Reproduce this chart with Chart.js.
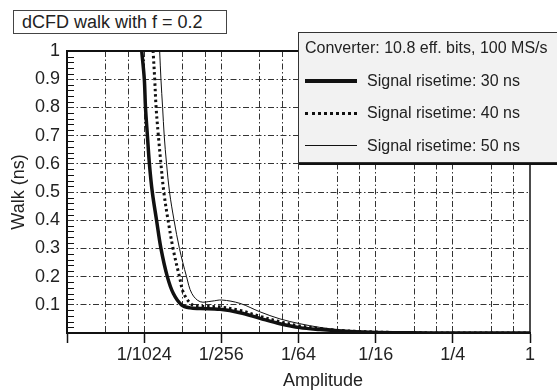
<!DOCTYPE html>
<html>
<head>
<meta charset="utf-8">
<script src="https://cdn.jsdelivr.net/npm/chart.js@4/dist/chart.umd.min.js"></script>
<style>
html,body{margin:0;padding:0;background:#fff;overflow:hidden;}
#wrap{position:relative;width:557px;height:391px;overflow:hidden;font-family:"Liberation Sans",Arial,Helvetica,sans-serif;color:#222;}
#c{position:absolute;left:0;top:0;}
#title{position:absolute;left:13px;top:10px;width:214px;height:24px;box-sizing:border-box;border:1px solid #444;background:#fff;font-size:18px;line-height:22px;padding-left:8px;white-space:nowrap;}
#legend{position:absolute;left:298px;top:32px;width:280px;height:131px;box-sizing:border-box;border:1px solid #333;background:#f2f2f2;box-shadow:1px 2px 0 #111;}
#legend .t{position:absolute;font-size:16px;line-height:20px;white-space:nowrap;}
#legend .s{position:absolute;left:6px;width:52px;}
#xtitle{position:absolute;left:283px;top:369px;font-size:18px;line-height:22px;white-space:nowrap;}
</style>
</head>
<body>
<div id="wrap">
<canvas id="c" width="557" height="391"></canvas>
<div id="title">dCFD walk with f = 0.2</div>
<div id="legend">
  <div class="t" style="left:6px;top:5px;">Converter: 10.8 eff. bits, 100 MS/s</div>
  <div class="s" style="top:46px;height:4px;background:#111;"></div>
  <div class="t" style="left:68px;top:38px;">Signal risetime: 30 ns</div>
  <div class="s" style="top:79px;height:0;border-top:3px dotted #111;"></div>
  <div class="t" style="left:68px;top:70px;">Signal risetime: 40 ns</div>
  <div class="s" style="top:112px;height:1px;background:#111;"></div>
  <div class="t" style="left:68px;top:103px;">Signal risetime: 50 ns</div>
</div>
<div id="xtitle">Amplitude</div>
</div>
<script>
// ---- data ----
const xTickValues = [1/4096, 1/2048, 3/4096, 1/1024, 1/512, 3/1024, 1/256, 1/128, 3/256, 1/64, 1/32, 3/64, 1/16, 1/8, 3/16, 1/4, 1/2, 3/4, 1];
const xTickLabels = ['', '', '', '1/1024', '', '', '1/256', '', '', '1/64', '', '', '1/16', '', '', '1/4', '', '', '1'];
const yMinorTicks = [0.02,0.04,0.06,0.08,0.12,0.14,0.16,0.18,0.22,0.24,0.26,0.28,0.32,0.34,0.36,0.38,0.42,0.44,0.46,0.48,0.52,0.54,0.56,0.58,0.62,0.64,0.66,0.68,0.72,0.74,0.76,0.78,0.82,0.84,0.86,0.88,0.92,0.94,0.96,0.98];

const seriesLabels = ['Signal risetime: 30 ns', 'Signal risetime: 40 ns', 'Signal risetime: 50 ns'];

const amp30  = [0.000895, 0.000935, 0.000979, 0.00100, 0.001035, 0.001073, 0.00113, 0.00122, 0.00132, 0.00148, 0.00165, 0.00191, 0.00223, 0.00267, 0.00382, 0.00546, 0.00783, 0.0112, 0.0160, 0.0229, 0.0330, 0.0564, 0.116, 0.25, 1];
const walk30 = [1.1, 1.0, 0.9, 0.8, 0.7, 0.6, 0.5, 0.4, 0.3, 0.2, 0.14, 0.1, 0.089, 0.087, 0.084, 0.072, 0.052, 0.033, 0.019, 0.012, 0.007, 0.003, 0.001, 0, 0];

const amp40  = [0.00112, 0.001147, 0.00118, 0.00121, 0.00126, 0.00132, 0.00139, 0.00150, 0.00164, 0.00184, 0.00199, 0.00231, 0.00267, 0.00382, 0.00546, 0.00783, 0.0112, 0.0160, 0.0229, 0.0330, 0.0564, 0.116, 0.25, 1];
const walk40 = [1.1, 1.0, 0.9, 0.8, 0.7, 0.6, 0.5, 0.4, 0.3, 0.2, 0.14, 0.1, 0.095, 0.092, 0.080, 0.059, 0.040, 0.025, 0.016, 0.009, 0.004, 0.001, 0, 0];

const amp50  = [0.00126, 0.00129, 0.00132, 0.00136, 0.00140, 0.00146, 0.00154, 0.00167, 0.00184, 0.00209, 0.00230, 0.00267, 0.0033, 0.00394, 0.00546, 0.00783, 0.0112, 0.0160, 0.0229, 0.0330, 0.0564, 0.116, 0.25, 1];
const walk50 = [1.1, 1.0, 0.9, 0.8, 0.7, 0.6, 0.5, 0.4, 0.3, 0.2, 0.14, 0.111, 0.113, 0.117, 0.105, 0.075, 0.050, 0.033, 0.020, 0.011, 0.004, 0.001, 0, 0];

const pts = (xs, ys) => xs.map((x, i) => ({x: x, y: ys[i]}));
const DASHDOT = [6, 2.5, 1.5, 2.5];

const framePlugin = {
  id: 'frame',
  afterDatasetsDraw(chart) {
    const {ctx, chartArea: {left, right, top, bottom}, scales: {y}} = chart;
    ctx.save();
    ctx.strokeStyle = '#111';
    ctx.lineWidth = 1;
    ctx.beginPath();
    for (const v of yMinorTicks) {
      const py = Math.round(y.getPixelForValue(v)) + 0.5;
      ctx.moveTo(left, py); ctx.lineTo(left + 7, py);
    }
    ctx.stroke();
    ctx.lineWidth = 2;
    ctx.beginPath(); ctx.moveTo(left - 1, top); ctx.lineTo(right + 1, top); ctx.stroke();
    ctx.lineWidth = 1.5;
    ctx.beginPath(); ctx.moveTo(right, top); ctx.lineTo(right, bottom); ctx.stroke();
    ctx.restore();
  }
};

const lineCommon = {borderColor: '#111', pointRadius: 0, tension: 0.35, fill: false, borderCapStyle: 'butt', borderJoinStyle: 'round'};

new Chart(document.getElementById('c'), {
  type: 'line',
  data: {
    datasets: [
      Object.assign({label: seriesLabels[0], data: pts(amp30, walk30), borderWidth: 3.5}, lineCommon),
      Object.assign({label: seriesLabels[1], data: pts(amp40, walk40), borderWidth: 3, borderDash: [2.5, 3]}, lineCommon),
      Object.assign({label: seriesLabels[2], data: pts(amp50, walk50), borderWidth: 1}, lineCommon)
    ]
  },
  options: {
    responsive: false,
    animation: false,
    devicePixelRatio: 1,
    layout: {padding: {left: 0, right: 27, top: 51, bottom: 0}},
    plugins: {legend: {display: false}, tooltip: {enabled: false}},
    scales: {
      x: {
        type: 'logarithmic',
        min: 1/4096, max: 1,
        afterBuildTicks: s => { s.ticks = xTickValues.map(v => ({value: v})); },
        afterFit: s => { s.height = 58; },
        ticks: {autoSkip: false, maxRotation: 0, minRotation: 0, padding: 1, color: '#222',
          font: {family: '"Liberation Sans", Arial, sans-serif', size: 18},
          callback: (v, i) => xTickLabels[i]},
        grid: {
          color: ctx => (ctx.index === 0 || ctx.index === xTickValues.length - 1) ? 'rgba(0,0,0,0)' : '#333',
          lineWidth: 1,
          tickLength: 10,
          tickWidth: 1.5,
          tickColor: ctx => (xTickLabels[ctx.index] || ctx.index === 0) ? '#111' : 'rgba(0,0,0,0)'
        },
        border: {display: true, color: '#111', width: 2, dash: DASHDOT}
      },
      y: {
        type: 'linear',
        min: 0, max: 1,
        afterFit: s => { s.width = 67; },
        ticks: {stepSize: 0.1, padding: 7, color: '#222',
          font: {family: '"Liberation Sans", Arial, sans-serif', size: 18},
          callback: v => (Math.abs(v) < 1e-9 ? '' : String(+v.toFixed(1)))},
        grid: {
          drawTicks: false,
          color: ctx => (ctx.index === 0 || ctx.index === 10) ? 'rgba(0,0,0,0)' : '#333',
          lineWidth: 1
        },
        border: {display: true, color: '#111', width: 2, dash: DASHDOT},
        title: {display: true, text: 'Walk (ns)', color: '#222',
          font: {family: '"Liberation Sans", Arial, sans-serif', size: 18},
          padding: {top: 8, bottom: 0}}
      }
    }
  },
  plugins: [framePlugin]
});
</script>
</body>
</html>
